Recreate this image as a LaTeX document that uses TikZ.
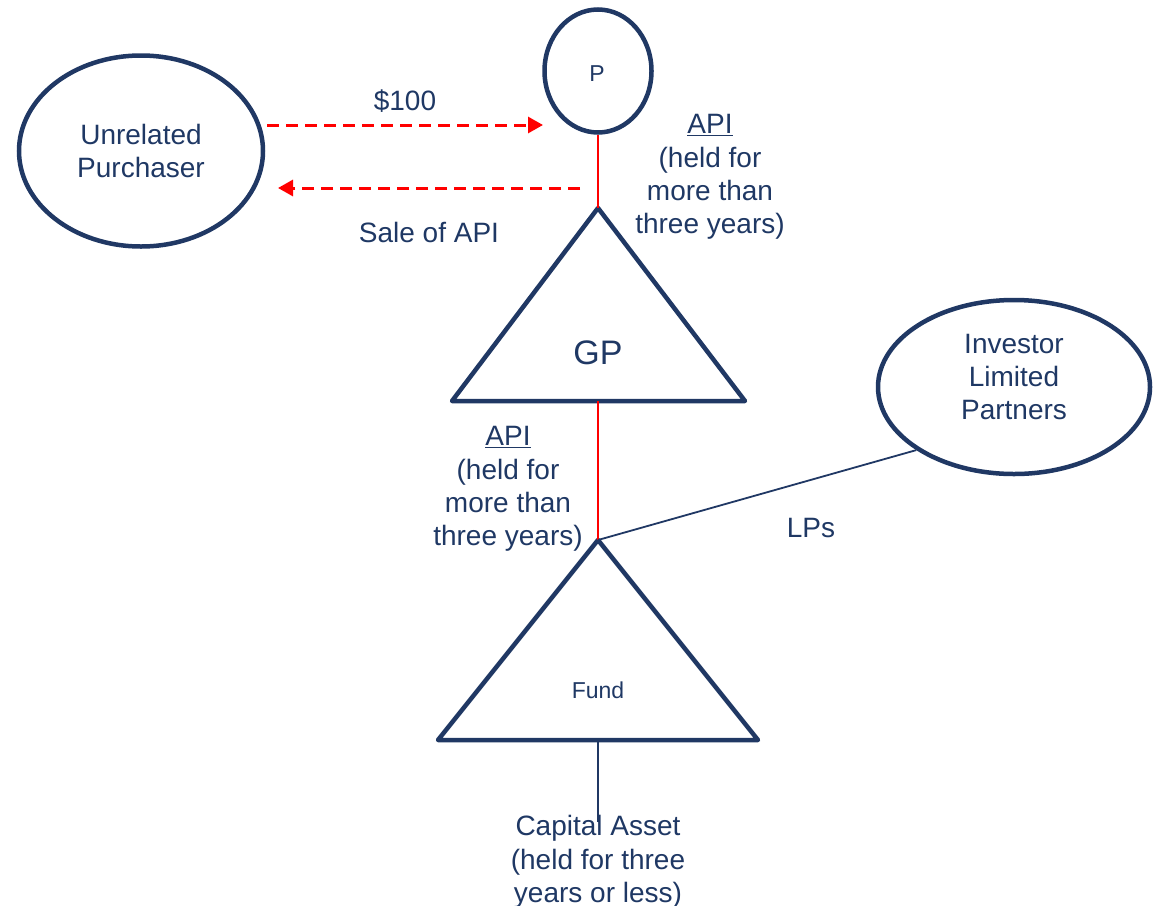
\documentclass[tikz,border=0pt]{standalone}
\usepackage{fontspec}
\setmainfont{Liberation Sans}
\usetikzlibrary{shapes.geometric,arrows.meta}
\definecolor{navy}{HTML}{203864}
\definecolor{inkblue}{HTML}{1F3864}
\definecolor{flowred}{HTML}{FF0000}
\tikzset{
  entity/.style={ellipse, draw=navy, line width=4.5pt, inner sep=0pt, align=center,
    text=inkblue, font=\fontsize{28}{33.3}\selectfont},
  tribox/.style={draw=navy, line width=4.5pt, line join=round},
  label/.style={inner sep=0pt, align=center, text=inkblue, font=\fontsize{28}{33.3}\selectfont},
  redlink/.style={draw=flowred, line width=2pt},
  navylink/.style={draw=navy, line width=1.8pt},
  dasharrow/.style={draw=flowred, line width=3pt, dash pattern=on 12pt off 7pt,
    -{Triangle[length=15pt,width=16pt]}},
}
\begin{document}
\begin{tikzpicture}[x=1pt,y=-1pt]
\useasboundingbox (0,0) rectangle (1155,905);

% parties drawn as ellipses
\node[entity, minimum width=244pt, minimum height=191pt] (up) at (141,151) {Unrelated\\Purchaser};
\node[entity, minimum width=107pt, minimum height=123pt] (p) at (598,71) {};
\node[label, font=\fontsize{23}{27}\selectfont] (pName) at (597,74) {P};
\node[entity, minimum width=272pt, minimum height=174pt] (ilp) at (1014,387) {};
\node[label] (ilpName) at (1014,377) {Investor\\Limited\\Partners};

% partnerships drawn as triangles
\coordinate (gpTop) at (598,208);
\coordinate (gpBase) at (598,401);
\draw[tribox] (gpTop) -- (745,401) -- (452,401) -- cycle;
\node[label, font=\fontsize{34}{40}\selectfont] (gp) at (598,353) {GP};

\coordinate (fundTop) at (598,540);
\coordinate (fundBase) at (598,740);
\draw[tribox] (fundTop) -- (758,740) -- (438,740) -- cycle;
\node[label, font=\fontsize{23}{27}\selectfont] (fund) at (598,690) {Fund};

% ownership links
\draw[redlink] (p.south) -- (gpTop);
\draw[redlink] (gpBase) -- (fundTop);
\draw[navylink] (fundTop) -- (ilp.south west);
\coordinate (assetEnd) at (598,822);
\draw[navylink] (fundBase) -- (assetEnd);

% sale of the API
\coordinate (payStart) at (267,125);
\coordinate (payEnd) at (543,125);
\coordinate (saleStart) at (580,188);
\coordinate (saleEnd) at (278,188);
\draw[dasharrow] (payStart) -- (payEnd);
\draw[dasharrow] (saleStart) -- (saleEnd);

% labels
\node[label] (price) at (405,101) {\$100};
\node[label] (sale) at (429,232) {Sale of API};
\node[label] (api1) at (710,177) {\underline{API}\\(held for\\more than\\three years)};
\node[label] (api2) at (508,489) {\underline{API}\\(held for\\more than\\three years)};
\node[label] (lps) at (811,528) {LPs};
\node[label] (asset) at (598,862) {Capital Asset\\(held for three\\years or less)};
\end{tikzpicture}
\end{document}
